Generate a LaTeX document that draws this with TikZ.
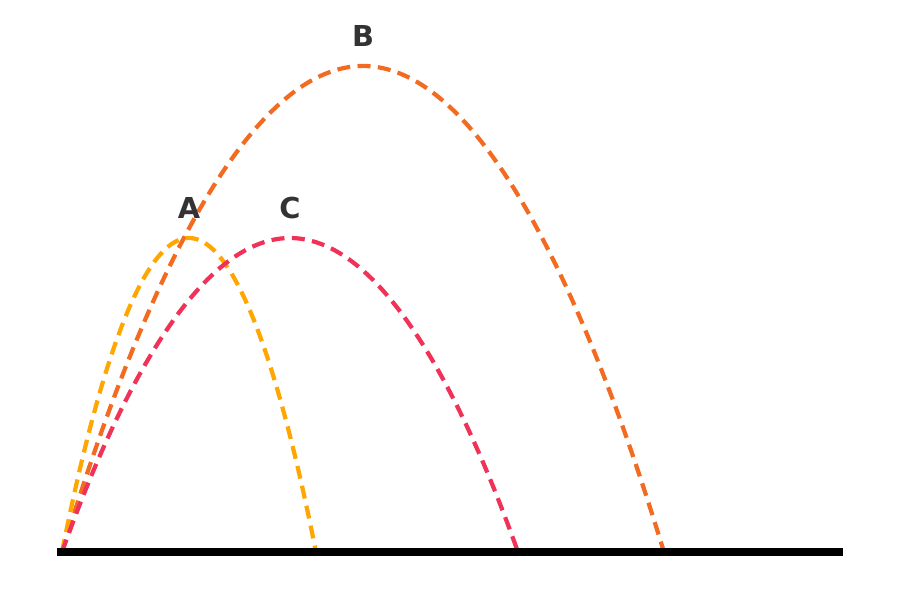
\documentclass[tikz,border=0pt]{standalone}
\usepackage{fontspec}
\setsansfont{DejaVu Sans}
\usetikzlibrary{calc}
\definecolor{trayA}{RGB}{255,166,0}
\definecolor{trayB}{RGB}{242,107,33}
\definecolor{trayC}{RGB}{240,50,88}
\definecolor{rotulo}{RGB}{51,51,51}
\tikzset{
  suelo/.style       = {black, line width=2.3pt},
  trayectoria/.style = {line width=1.2pt, dash pattern=on 3.7pt off 2.1pt},
  etiqueta/.style    = {font=\sffamily\bfseries\fontsize{8.2}{9.5}\selectfont, text=rotulo}
}
\begin{document}
\begin{tikzpicture}
  \useasboundingbox (0,0) rectangle (9,6);
  \coordinate (O) at (0.62,0.48);

  \coordinate (picoA) at (1.89,3.62);
  \coordinate (finA)  at (3.16,0.48);
  \coordinate (picoB) at (3.63,5.34);
  \coordinate (finB)  at (6.64,0.48);
  \coordinate (picoC) at (2.90,3.62);
  \coordinate (finC)  at (5.18,0.48);

  \draw[trayectoria, trayB] (O) parabola bend (picoB) (finB);
  \draw[trayectoria, trayA] (O) parabola bend (picoA) (finA);
  \draw[trayectoria, trayC] (O) parabola bend (picoC) (finC);

  \coordinate (izq) at (0.57,0.48);
  \coordinate (der) at (8.43,0.48);
  \draw[suelo] (izq) -- (der);

  \node[etiqueta] (A) at ($(picoA)+(0,0.30)$) {A};
  \node[etiqueta] (B) at ($(picoB)+(0,0.30)$) {B};
  \node[etiqueta] (C) at ($(picoC)+(0,0.30)$) {C};
\end{tikzpicture}
\end{document}
